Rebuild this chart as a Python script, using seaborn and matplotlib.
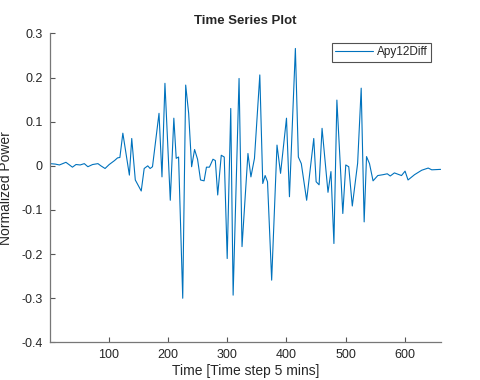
import numpy as np
import pandas as pd
import matplotlib
matplotlib.use('Agg')
import matplotlib.pyplot as plt
import seaborn as sns

# values
time_step = [1, 10, 17, 28, 39, 45, 52, 59, 65, 73, 82, 87, 94, 101, 110, 115, 119,
             124, 135, 139, 145, 155, 160, 166, 170, 174, 185, 190, 195, 204, 210,
             214, 218, 225, 230, 235, 240, 245, 250, 255, 261, 265, 270, 276, 280,
             284, 290, 295, 300, 306, 310, 320, 325, 335, 340, 346, 355, 360, 364,
             368, 375, 384, 390, 400, 405, 415, 420, 425, 434, 446, 450, 455, 460,
             470, 475, 480, 485, 495, 500, 505, 511, 520, 526, 531, 535, 540, 546,
             554, 563, 570, 575, 582, 594, 600, 605, 616, 628, 639, 645, 660]
power = [0.005, 0.004, 0.002, 0.008, -0.003, 0.003, 0.002, 0.005, -0.002, 0.003,
         0.005, 0.0, -0.006, 0.003, 0.012, 0.018, 0.019,
         0.074, -0.021, 0.062, -0.032, -0.057, -0.006, 0.0, -0.006, -0.002, 0.119,
         -0.025, 0.187, -0.078, 0.108,
         0.017, 0.02, -0.3, 0.183, 0.119, -0.002, 0.037, 0.015, -0.032, -0.034,
         -0.003, -0.003, 0.015, 0.012,
         -0.066, 0.024, 0.02, -0.21, 0.13, -0.293, 0.198, -0.183, 0.028, -0.025,
         0.017, 0.206, -0.04, -0.022,
         -0.036, -0.259, 0.047, -0.017, 0.108, -0.07, 0.266, 0.02, 0.005, -0.078,
         0.062, -0.036, -0.043, 0.085,
         -0.06, -0.013, -0.176, 0.149, -0.108, 0.002, -0.002, -0.091, 0.006, 0.176,
         -0.127, 0.021, 0.005, -0.034,
         -0.022, -0.02, -0.018, -0.023, -0.016, -0.022, -0.012, -0.032, -0.02,
         -0.01, -0.005, -0.009, -0.008]
x_ticks = [100, 200, 300, 400, 500, 600]
y_ticks = [-0.4, -0.3, -0.2, -0.1, 0, 0.1, 0.2, 0.3]
y_tick_labels = ['-0.4', '-0.3', '-0.2', '-0.1', '0', '0.1', '0.2', '0.3']

df = pd.DataFrame({'t': time_step, 'p': power})

sns.set_style('ticks')
plt.rcParams['font.family'] = ['Liberation Sans', 'DejaVu Sans']
plt.rcParams['axes.unicode_minus'] = False

fig = plt.figure(figsize=(4.8, 3.8), dpi=100)
ax = fig.add_axes([0.104, 0.099, 0.814, 0.813])

sns.lineplot(data=df, x='t', y='p', ax=ax, color='#0072BD', linewidth=0.8,
             label='Apy12Diff')

ax.set_xlim(1, 660)
ax.set_ylim(-0.4, 0.3)
ax.set_xticks(x_ticks)
ax.set_yticks(y_ticks)
ax.set_yticklabels(y_tick_labels)
ax.tick_params(direction='in', length=3.5, width=0.8, color='#555555',
               labelsize=9, labelcolor='#262626', pad=5)

for s in ['top', 'right']:
    ax.spines[s].set_visible(False)
for s in ['left', 'bottom']:
    ax.spines[s].set_color('#777777')
    ax.spines[s].set_linewidth(0.9)

ax.set_title('Time Series Plot', fontsize=9.5, fontweight='bold', pad=7)
ax.set_xlabel('Time [Time step 5 mins]', fontsize=10, color='#262626', labelpad=2)
ax.set_ylabel('Normalized Power', fontsize=10, color='#262626', labelpad=6)

leg = ax.legend(loc='upper right', bbox_to_anchor=(0.975, 0.97), fontsize=8.5,
                frameon=True, fancybox=False, handlelength=3.2,
                borderpad=0.3, handletextpad=0.3, borderaxespad=0)
leg.get_frame().set_edgecolor('#262626')
leg.get_frame().set_linewidth(0.8)

fig.savefig('out.png', dpi=100)
